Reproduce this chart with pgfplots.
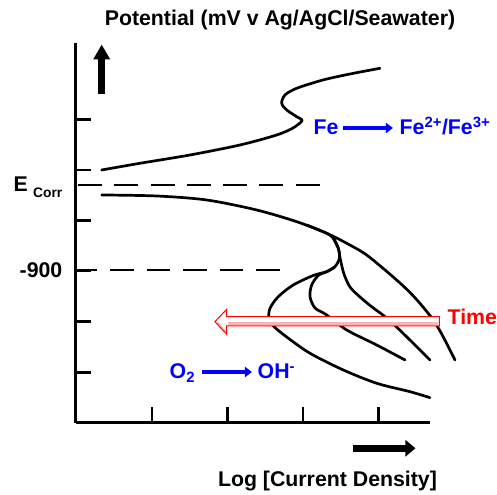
\documentclass[border=0pt]{standalone}
\usepackage{pgfplots}
\pgfplotsset{compat=1.18}
\usepackage{fontspec}
\setmainfont{Liberation Sans}
\usetikzlibrary{arrows.meta}
\newcommand{\bigf}{\fontsize{21.3bp}{25bp}\selectfont\bfseries}
\newcommand{\subf}{\fontsize{13.8bp}{14bp}\selectfont\bfseries}
\definecolor{myblue}{RGB}{0,0,255}
\definecolor{myred}{RGB}{255,0,0}
\begin{document}
\begin{tikzpicture}
\begin{axis}[
  x=1bp, y=1bp, xmin=76, xmax=430, ymin=72.3, ymax=451.7,
  axis x line=bottom, axis y line=left,
  axis line style={-, line width=3bp, black},
  xtick={152,227.3,303,378.7}, ytick={122.7,173.3,224,274.4,325,375.7},
  xticklabels={}, yticklabels={},
  tick align=inside, major tick length=15.5bp,
  tick style={line width=2.8bp, black},
  clip=false,
]
% bounding frame of the whole picture
\path (axis cs:0,0) rectangle (axis cs:497,495);

% dashed reference lines
\addplot[black, line width=2.8bp, dash pattern=on 24bp off 12.3bp] coordinates {(78,310) (320,310)};
\addplot[black, line width=2.8bp, dash pattern=on 23.5bp off 13bp] coordinates {(74,225) (280,225)};

% anodic curve
\addplot[black, line width=2.7bp, smooth, line cap=round] coordinates {
(101.7,325) (140,331.7) (190,340) (240,350) (276.7,360) (293,367) (302,374.3)
(296.7,378.3) (286.7,385) (281.7,391.7) (285,400) (296.7,406.7) (323,415) (350,421) (380,426.7)};

% main cathodic + outer branch
\addplot[black, line width=2.7bp, smooth, line cap=round] coordinates {
(101.7,300) (156.7,299) (206.7,295) (256.7,285) (296.7,273.3) (326.7,261.7) (348,251)
(368,239) (400,212) (417,195) (433.3,175) (443.3,158) (455,135)};

% branch 2 + inner loop
\addplot[black, line width=2.7bp, smooth, line cap=round] coordinates {
(306.7,270) (326.7,261.7) (333.3,256.7) (338.3,246.7) (339.5,237) (335,228.3) (326.7,223.3)
(318.3,219.5) (311.7,210) (310,198.3) (315,187) (326,180.5) (346.7,165) (376.7,150) (405,135)};

% branch 2a
\addplot[black, line width=2.7bp, smooth, line cap=round] coordinates {
(333.3,256.7) (338.3,246.7) (340.5,235) (344,221) (350,208) (360,198) (372,188)
(386.7,177) (403.3,161.5) (430,135)};

% outer loop 2b
\addplot[black, line width=2.7bp, smooth, line cap=round] coordinates {
(335,228.3) (326.7,223.3) (313.3,219.5) (293.3,210) (278.3,198.3) (270,186.7) (269,176.7)
(273.3,169) (286.7,158) (310,141.7) (343.3,125) (376.7,111.7) (410,103.3) (430,97.3)};

% Time arrow
\fill[white] (axis cs:215,173.3) -- (axis cs:226.7,185.7) -- (axis cs:226.7,178.3) -- (axis cs:439.3,178.3)
  -- (axis cs:439.3,169) -- (axis cs:226.7,169) -- (axis cs:226.7,160.7) -- cycle;
\draw[red!30, line width=2.8bp] (axis cs:228,171.2) -- (axis cs:438.5,171.2);
\draw[red!30, line width=1.5bp] (axis cs:217.5,172.3) -- (axis cs:226.2,163);
\draw[myred, line width=1bp, line join=miter] (axis cs:215,173.3) -- (axis cs:226.7,185.7) -- (axis cs:226.7,178.3) -- (axis cs:439.3,178.3)
  -- (axis cs:439.3,169) -- (axis cs:226.7,169) -- (axis cs:226.7,160.7) -- cycle;

% black direction arrows
\draw[black, line width=6.5bp, -{Triangle[width=16bp,length=15bp]}] (axis cs:101.7,400.7) -- (axis cs:101.7,450.5);
\draw[black, line width=7bp, -{Triangle[width=16bp,length=10bp]}] (axis cs:353,46.7) -- (axis cs:415.5,46.7);

% blue reaction arrows
\draw[myblue, line width=4bp, -{Triangle[width=10bp,length=7bp]}] (axis cs:343,367) -- (axis cs:393,367);
\draw[myblue, line width=4bp, -{Triangle[width=10bp,length=7bp]}] (axis cs:202,123) -- (axis cs:252,123);

% texts
\node[anchor=base, inner sep=0pt] at (axis cs:280,469) {\bigf Potential (mV v Ag/AgCl/Seawater)};
\node[anchor=base, inner sep=0pt] at (axis cs:327.5,8.5) {\bigf Log [Current Density]};
\node[anchor=base west, inner sep=0pt] at (axis cs:13.5,303) {\bigf E};
\node[anchor=base west, inner sep=0pt] at (axis cs:33,297) {\subf Corr};
\node[anchor=base east, inner sep=0pt] at (axis cs:62.5,217) {\bigf -900};
\node[anchor=base west, inner sep=0pt, text=myblue] at (axis cs:313.5,360) {\bigf Fe};
\node[anchor=base west, inner sep=0pt, text=myblue] at (axis cs:399.5,360) {\bigf Fe\textsuperscript{2+}/Fe\textsuperscript{3+}};
\node[anchor=base west, inner sep=0pt, text=myblue] at (axis cs:169.5,116) {\bigf O\textsubscript{2}};
\node[anchor=base west, inner sep=0pt, text=myblue] at (axis cs:257.5,116) {\bigf OH\textsuperscript{-}};
\node[anchor=base west, inner sep=0pt, text=myred] at (axis cs:447.5,170) {\bigf Time};
\end{axis}
\end{tikzpicture}
\end{document}
